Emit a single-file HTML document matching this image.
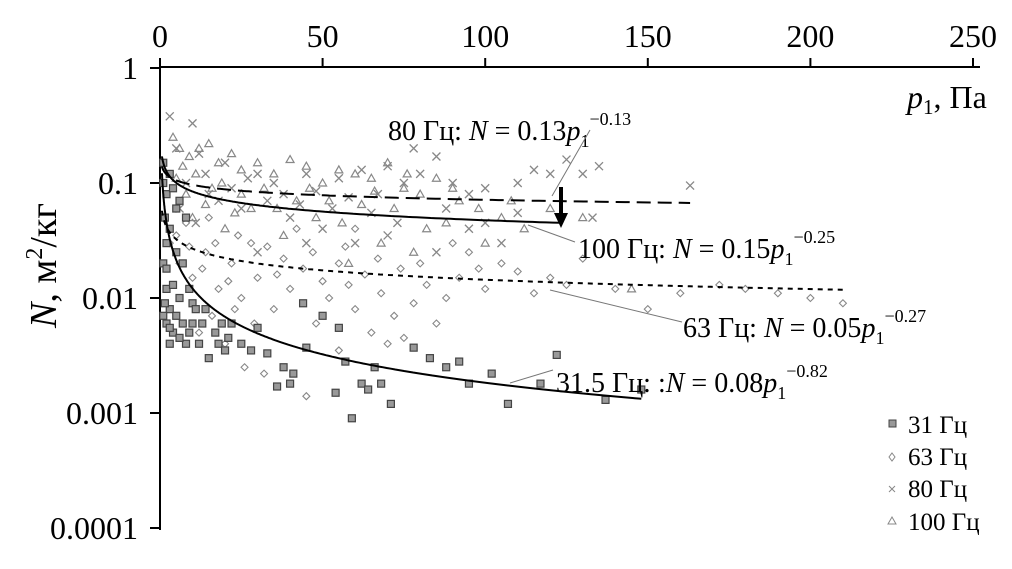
<!DOCTYPE html>
<html><head><meta charset="utf-8"><style>
body{margin:0;background:#fff;width:1012px;height:564px;overflow:hidden}
svg text{font-family:"Liberation Serif",serif;fill:#000}
.tk{font-size:32px}
.lb{font-size:28px}
.sp{font-size:18px}
.lg{font-size:25px}
</style></head><body>
<svg id="chart" width="1012" height="564" viewBox="0 0 1012 564" xmlns="http://www.w3.org/2000/svg">
<g id="axes"></g><g id="marks"></g><g id="curves"></g><g id="anno"></g>
</svg>
<script>
const xTicks=[0,50,100,150,200,250];
const yTicks=[1,0.1,0.01,0.001,0.0001];
const yTickLabels=["1","0.1","0.01","0.001","0.0001"];
const s31=[[1,0.15],[1,0.1],[2,0.08],[1.5,0.05],[2,0.03],[3,0.04],[1,0.02],[2,0.012],[3,0.008],[1,0.007],[2,0.006],[4,0.005],[3,0.004],[5,0.007],[6,0.01],[4,0.013],[7,0.006],[8,0.004],[9,0.005],[10,0.006],[12,0.004],[15,0.003],[7,0.02],[5,0.06],[3,0.12],[10,0.009],[18,0.004],[20,0.0035],[25,0.004],[28,0.0035],[33,0.0033],[38,0.0025],[36,0.0017],[40,0.0018],[41,0.0022],[45,0.0037],[55,0.0055],[57,0.0028],[62,0.0018],[64,0.0016],[68,0.0018],[66,0.0025],[71,0.0012],[59,0.0009],[78,0.0037],[83,0.003],[88,0.0025],[92,0.0028],[95,0.0018],[102,0.0022],[107,0.0012],[117,0.0018],[122,0.0032],[137,0.0013],[148,0.0016],[30,0.0055],[22,0.006],[50,0.007],[44,0.009],[54,0.0015],[4,0.09],[6,0.07],[8,0.05],[2,0.018],[5,0.025],[9,0.012],[11,0.008],[13,0.006],[6,0.0045],[14,0.008],[17,0.005],[19,0.006],[21,0.0045],[3,0.0055],[1.5,0.009]];
const s63=[[3,0.03],[6,0.02],[10,0.015],[14,0.025],[18,0.012],[22,0.02],[25,0.01],[28,0.03],[30,0.015],[35,0.008],[38,0.022],[40,0.012],[44,0.018],[48,0.006],[52,0.01],[55,0.02],[58,0.013],[60,0.008],[63,0.016],[65,0.005],[68,0.011],[72,0.007],[74,0.018],[78,0.009],[82,0.013],[85,0.006],[88,0.01],[92,0.015],[95,0.025],[100,0.012],[105,0.02],[110,0.017],[115,0.011],[120,0.015],[125,0.013],[130,0.022],[140,0.012],[150,0.008],[160,0.011],[172,0.013],[180,0.012],[190,0.011],[200,0.01],[210,0.009],[12,0.005],[20,0.004],[26,0.0025],[32,0.0022],[45,0.0014],[70,0.004],[75,0.0045],[55,0.0035],[15,0.05],[8,0.045],[42,0.04],[60,0.04],[5,0.035],[9,0.028],[13,0.018],[17,0.03],[21,0.014],[24,0.035],[33,0.028],[36,0.016],[47,0.025],[50,0.014],[57,0.028],[67,0.022],[80,0.02],[90,0.03],[98,0.018],[16,0.007],[23,0.008],[29,0.006]];
const s80=[[3,0.38],[10,0.33],[5,0.2],[12,0.18],[20,0.15],[30,0.12],[35,0.1],[45,0.12],[55,0.11],[62,0.13],[70,0.14],[75,0.1],[80,0.12],[90,0.1],[95,0.08],[100,0.09],[110,0.1],[115,0.13],[120,0.12],[125,0.16],[130,0.12],[135,0.14],[133,0.05],[163,0.095],[78,0.2],[85,0.17],[15,0.08],[25,0.06],[40,0.05],[50,0.04],[60,0.03],[70,0.035],[85,0.025],[95,0.04],[105,0.03],[110,0.055],[30,0.025],[45,0.03],[65,0.055],[8,0.1],[18,0.07],[6,0.06],[11,0.045],[14,0.12],[22,0.09],[27,0.11],[33,0.07],[38,0.08],[43,0.065],[48,0.085],[53,0.06],[58,0.075],[67,0.08],[73,0.045],[88,0.06],[100,0.045]];
const s100=[[4,0.25],[6,0.2],[9,0.17],[12,0.2],[15,0.22],[18,0.15],[22,0.18],[25,0.13],[30,0.15],[35,0.12],[40,0.16],[45,0.14],[50,0.1],[55,0.13],[60,0.12],[65,0.11],[70,0.15],[75,0.09],[80,0.08],[85,0.11],[92,0.07],[98,0.06],[105,0.05],[112,0.04],[120,0.06],[130,0.05],[145,0.012],[100,0.03],[10,0.05],[20,0.04],[28,0.06],[38,0.035],[48,0.05],[58,0.02],[68,0.03],[78,0.025],[88,0.045],[8,0.08],[16,0.09],[25,0.08],[42,0.07],[52,0.07],[62,0.065],[72,0.06],[82,0.04],[5,0.11],[7,0.14],[11,0.12],[14,0.065],[19,0.1],[23,0.055],[32,0.09],[36,0.06],[46,0.09],[56,0.045],[66,0.085],[76,0.12],[90,0.09],[108,0.07]];
const fitA=[0.08,0.05,0.13,0.15];
const fitB=[-0.82,-0.27,-0.13,-0.25];
const fitMax=[148,210,163,123];

const NS="http://www.w3.org/2000/svg";
const X=p=>160+p*3.252;
const Y=n=>68-115*Math.log10(n);
function mk(tag,attrs,parent,txt){const e=document.createElementNS(NS,tag);for(const k in attrs)e.setAttribute(k,attrs[k]);if(txt!==undefined)e.textContent=txt;parent.appendChild(e);return e;}
const axes=document.getElementById('axes'),marks=document.getElementById('marks'),curves=document.getElementById('curves'),anno=document.getElementById('anno');
let e=mk('line',{x1:160,y1:67,x2:980,y2:67,stroke:'#000','stroke-width':2},axes);


e=mk('line',{x1:160,y1:67,x2:160,y2:530,stroke:'#000','stroke-width':2},axes);


xTicks.forEach(t=>{
 mk('line',{x1:X(t),y1:67,x2:X(t),y2:58,stroke:'#000','stroke-width':2},axes);
 e=mk('text',{x:X(t),y:47,'text-anchor':'middle','class':'tk'},axes,String(t));
 
 
});
yTicks.forEach((t,i)=>{
 mk('line',{x1:150,y1:Y(t),x2:160,y2:Y(t),stroke:'#000','stroke-width':2},axes);
 e=mk('text',{x:138,y:Y(t)+11,'text-anchor':'end','class':'tk'},axes,yTickLabels[i]);
 
 
});
function sq(x,y,p,s){return mk('rect',{x:x-3.5*s,y:y-3.5*s,width:7*s,height:7*s,fill:'#999',stroke:'#444','stroke-width':1.2},p);}
function dm(x,y,p,s){return mk('path',{d:`M${x} ${y-3.5*s}L${x+3.5*s} ${y}L${x} ${y+3.5*s}L${x-3.5*s} ${y}Z`,fill:'none',stroke:'#888','stroke-width':1.1},p);}
function cr(x,y,p,s){return mk('path',{d:`M${x-4*s} ${y-4*s}L${x+4*s} ${y+4*s}M${x-4*s} ${y+4*s}L${x+4*s} ${y-4*s}`,stroke:'#888','stroke-width':1.3},p);}
function tr(x,y,p,s){return mk('path',{d:`M${x} ${y-4*s}L${x+4*s} ${y+3*s}L${x-4*s} ${y+3*s}Z`,fill:'none',stroke:'#888','stroke-width':1.2},p);}
const series=[[s63,dm,'point-63hz'],[s80,cr,'point-80hz'],[s100,tr,'point-100hz'],[s31,sq,'point-31hz']];
series.forEach(([d,f,n])=>d.forEach(([p,v])=>{const m=f(X(p),Y(v),marks,1);
 
 }));
const dashes=['','5,5','14,7',''];
const names=['fit-31hz','fit-63hz','fit-80hz','fit-100hz'];
fitA.forEach((a,i)=>{let d='';for(let k=0;k<=300;k++){const p=0.6*Math.pow(fitMax[i]/0.6,k/300);d+=(k?'L':'M')+X(p).toFixed(1)+' '+Y(a*Math.pow(p,fitB[i])).toFixed(1);}
 const c=mk('path',{d:d,fill:'none',stroke:'#000','stroke-width':2,'stroke-dasharray':dashes[i]},curves);
 
 });
anno.innerHTML=`
<text x="907" y="108" class="tk"><tspan font-style="italic">p</tspan><tspan class="sp" style="font-size:21px" dy="6">1</tspan><tspan dy="-6">, Па</tspan></text>
<text transform="translate(56,328) rotate(-90)" style="font-size:38px"><tspan font-style="italic">N</tspan>, м<tspan style="font-size:24px" dy="-14">2</tspan><tspan dy="14">/кг</tspan></text>
<text x="388" y="140" class="lb">80 Гц: <tspan font-style="italic">N</tspan> = 0.13<tspan font-style="italic">p</tspan><tspan class="sp" dy="7">1</tspan><tspan class="sp" dy="-22">−0.13</tspan></text>
<line x1="590" y1="130" x2="552" y2="196" stroke="#777" stroke-width="1"/>
<text x="578" y="258" class="lb">100 Гц: <tspan font-style="italic">N</tspan> = 0.15<tspan font-style="italic">p</tspan><tspan class="sp" dy="7">1</tspan><tspan class="sp" dy="-22">−0.25</tspan></text>
<line x1="575" y1="242" x2="528" y2="225" stroke="#777" stroke-width="1"/>
<text x="683" y="337" class="lb">63 Гц: <tspan font-style="italic">N</tspan> = 0.05<tspan font-style="italic">p</tspan><tspan class="sp" dy="7">1</tspan><tspan class="sp" dy="-22">−0.27</tspan></text>
<line x1="682" y1="322" x2="550" y2="290" stroke="#777" stroke-width="1"/>
<text x="556" y="392" class="lb">31.5 Гц: :<tspan font-style="italic">N</tspan> = 0.08<tspan font-style="italic">p</tspan><tspan class="sp" dy="7">1</tspan><tspan class="sp" dy="-22">−0.82</tspan></text>
<line x1="553" y1="370" x2="510" y2="383" stroke="#777" stroke-width="1"/>
<line x1="561" y1="187" x2="561" y2="215" stroke="#000" stroke-width="4"/>
<path d="M554 213L568 213L561 228Z" fill="#000"/>
<g>
<rect x="889" y="420" width="7" height="7" fill="#999" stroke="#444"/><text x="908" y="433" class="lg">31 Гц</text>
<path d="M892 453L895 457L892 461L889 457Z" fill="none" stroke="#888"/><text x="908" y="465" class="lg">63 Гц</text>
<path d="M889 486L895 492M889 492L895 486" stroke="#888"/><text x="908" y="497" class="lg">80 Гц</text>
<path d="M892 517L896 524L888 524Z" fill="none" stroke="#888"/><text x="908" y="530" class="lg">100 Гц</text>
</g>`;
</script>
</body></html>
